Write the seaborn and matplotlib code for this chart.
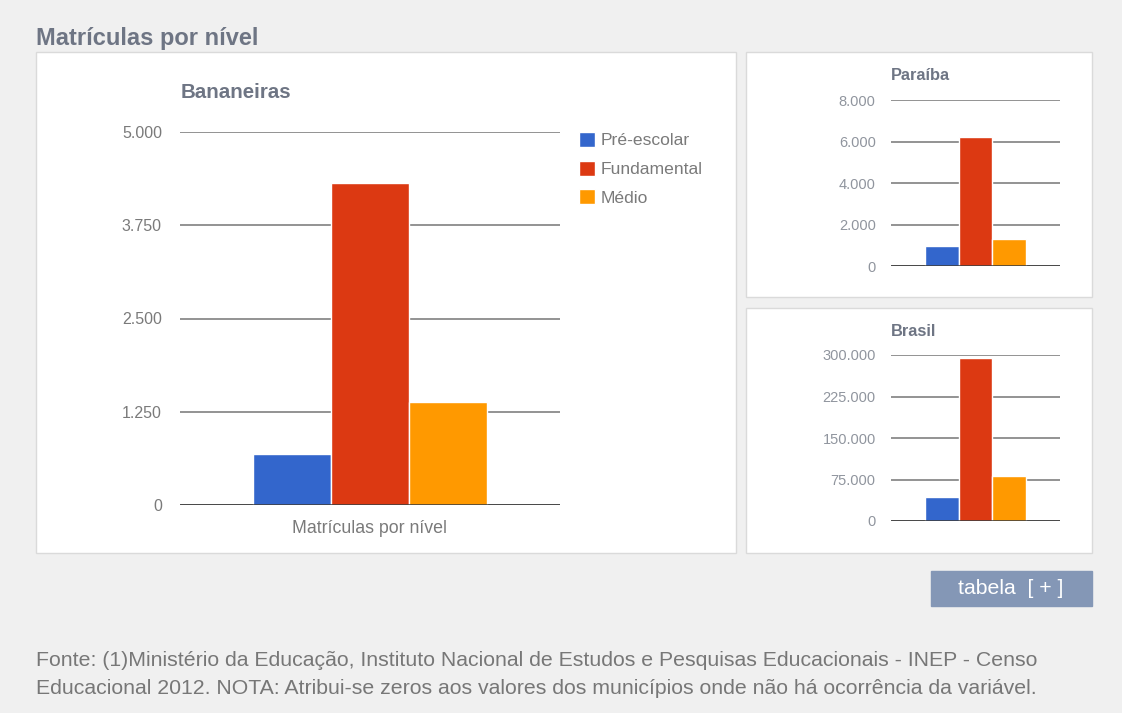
import pandas as pd
import numpy as np
import seaborn as sns
import matplotlib.pyplot as plt
from matplotlib.patches import Rectangle

# dados
niveis = ['Pré-escolar', 'Fundamental', 'Médio']
cores = ['#3366cc', '#dc3912', '#ff9900']
bananeiras = [690, 4310, 1385]
paraiba = [950, 6200, 1320]
brasil = [43400, 294600, 81900]
ticks_bananeiras = [0, 1250, 2500, 3750, 5000]
ticks_paraiba = [0, 2000, 4000, 6000, 8000]
ticks_brasil = [0, 75000, 150000, 225000, 300000]
categoria = 'Matrículas por nível'

sns.set_style('white')
plt.rcParams['font.family'] = ['Liberation Sans', 'DejaVu Sans']

W, H = 1122, 713
fig = plt.figure(figsize=(W / 100, H / 100), dpi=100, facecolor='#f0f0f0')


def fx(x):
    return x / W


def fy(y):
    return 1 - y / H


def painel(x0, y0, x1, y1, cor='white', borda='#dadada'):
    fig.patches.append(Rectangle((fx(x0), fy(y1)), fx(x1 - x0), (y1 - y0) / H,
                                 transform=fig.transFigure, facecolor=cor,
                                 edgecolor=borda, linewidth=1, zorder=-5))


def eixo(x0, y0, x1, y1):
    ax = fig.add_axes([fx(x0), fy(y1), fx(x1 - x0), (y1 - y0) / H])
    ax.set_zorder(2)
    return ax


def fmt(v):
    return f'{v:,}'.replace(',', '.')


def grafico(ax, valores, ticks, largura, pad, tsize, tcolor, legenda=False):
    df = pd.DataFrame({'grupo': categoria, 'nivel': niveis, 'valor': valores})
    sns.barplot(data=df, x='grupo', y='valor', hue='nivel', palette=cores,
                saturation=1, width=largura, edgecolor='white', linewidth=1,
                ax=ax, legend=legenda, zorder=3)
    ax.set_xlim(-0.5, 0.5)
    ax.set_ylim(0, ticks[-1])
    ax.set_yticks(ticks)
    ax.set_yticklabels([fmt(t) for t in ticks])
    ax.yaxis.grid(True, color='#8a8a8a', linewidth=1.3, zorder=1)
    ax.set_axisbelow(True)
    ax.axhline(0, color='#333333', linewidth=1.8, zorder=4)
    ax.tick_params(axis='y', length=0, pad=pad, labelsize=tsize, labelcolor=tcolor)
    ax.tick_params(axis='x', length=0)
    for s in ax.spines.values():
        s.set_visible(False)
    ax.set_xlabel('')
    ax.set_ylabel('')
    ax.patch.set_alpha(0)


# paineis
painel(36, 52, 736, 553)
painel(746, 52, 1092, 297)
painel(746, 308, 1092, 553)

# grafico principal
ax1 = eixo(180, 132, 560, 505)
grafico(ax1, bananeiras, ticks_bananeiras, 0.615, 13, 11.5, '#7a7a7a', legenda=True)
ax1.tick_params(axis='x', labelsize=12.8, labelcolor='#7a7a7a', pad=11)
h, l = ax1.get_legend_handles_labels()
ax1.legend(h, l, loc='upper left', bbox_to_anchor=(fx(563), fy(116)),
           bbox_transform=fig.transFigure, frameon=False, fontsize=12.6,
           labelcolor='#7a7a7a', handlelength=0.95, handleheight=0.95,
           handletextpad=0.3, labelspacing=0.7)

# Paraíba
ax2 = eixo(891, 100, 1060, 266)
grafico(ax2, paraiba, ticks_paraiba, 0.595, 11, 10.5, '#90959e')
ax2.set_xticklabels([])

# Brasil
ax3 = eixo(891, 355, 1060, 521)
grafico(ax3, brasil, ticks_brasil, 0.595, 11, 10.5, '#90959e')
ax3.set_xticklabels([])

# textos
cor_titulo = '#6e7584'
fig.text(fx(36), fy(38), 'Matrículas por nível', fontsize=17, fontweight='bold',
         color=cor_titulo, va='center', ha='left')
fig.text(fx(181), fy(92), 'Bananeiras', fontsize=14.8, fontweight='bold',
         color=cor_titulo, va='center', ha='left')
fig.text(fx(891), fy(75), 'Paraíba', fontsize=11.8, fontweight='bold',
         color=cor_titulo, va='center', ha='left')
fig.text(fx(891), fy(332), 'Brasil', fontsize=11.8, fontweight='bold',
         color=cor_titulo, va='center', ha='left')

# botao tabela
painel(931, 571, 1092, 606, cor='#8497b6', borda='#8497b6')
fig.text(fx(1011), fy(589), 'tabela  [ + ]', fontsize=15.3, color='white',
         va='center', ha='center')

# fonte
fig.text(fx(36), fy(661), 'Fonte: (1)Ministério da Educação, Instituto Nacional de Estudos e '
         'Pesquisas Educacionais - INEP - Censo', fontsize=15.3, color='#777777',
         va='center', ha='left')
fig.text(fx(36), fy(688), 'Educacional 2012. NOTA: Atribui-se zeros aos valores dos '
         'municípios onde não há ocorrência da variável.', fontsize=15.3,
         color='#777777', va='center', ha='left')

fig.savefig('out.png', dpi=100, facecolor=fig.get_facecolor())
